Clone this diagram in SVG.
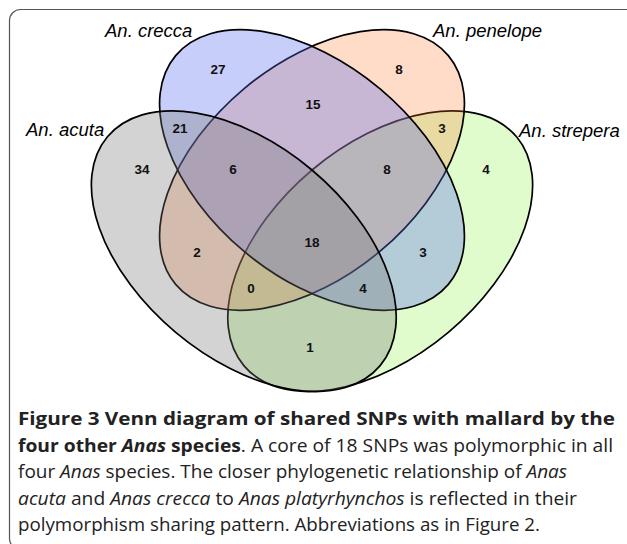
<svg xmlns="http://www.w3.org/2000/svg" width="627" height="544" viewBox="0 0 627 544">
<style>
.set{stroke:#000;stroke-width:1.7}
.lbl{font-family:"Liberation Sans",Arial,sans-serif;font-style:italic;font-size:18.5px;fill:#000}
.num{font-family:"Liberation Sans",Arial,sans-serif;font-weight:bold;font-size:13.5px;fill:#111;text-anchor:middle}
.cap{font-family:"Open Sans","Noto Sans",sans-serif;font-size:18.5px;fill:#222}
.b{font-weight:bold}
.i{font-style:italic}
</style>
<rect x="9.5" y="9.5" width="640" height="540" rx="11" fill="#fff" stroke="#555" stroke-width="1.2"/>
<g id="strepera">
<ellipse class="set" cx="0" cy="0" rx="178" ry="106" transform="translate(380.2,251.2) rotate(-40)" fill="#e0fccc"/>
<text class="lbl" x="519" y="137">An. strepera</text>
</g>
<g id="penelope">
<ellipse class="set" cx="0" cy="0" rx="178" ry="106" transform="translate(312,170) rotate(-40)" fill="rgb(255,120,43)" fill-opacity="0.26"/>
<text class="lbl" x="433" y="37">An. penelope</text>
</g>
<g id="crecca">
<ellipse class="set" cx="0" cy="0" rx="178" ry="106" transform="translate(312,170) rotate(40)" fill="rgb(88,107,240)" fill-opacity="0.33"/>
<text class="lbl" x="105" y="37">An. crecca</text>
</g>
<g id="acuta">
<ellipse class="set" cx="0" cy="0" rx="178" ry="106" transform="translate(243.8,251.2) rotate(40)" fill="rgb(118,118,118)" fill-opacity="0.32"/>
<text class="lbl" x="26" y="136">An. acuta</text>
</g>
<g id="counts">
<text class="num" x="218" y="74">27</text>
<text class="num" x="313" y="109">15</text>
<text class="num" x="399" y="74">8</text>
<text class="num" x="180" y="133">21</text>
<text class="num" x="442" y="133">3</text>
<text class="num" x="142" y="174">34</text>
<text class="num" x="233" y="174">6</text>
<text class="num" x="387" y="174">8</text>
<text class="num" x="486" y="174">4</text>
<text class="num" x="312" y="247">18</text>
<text class="num" x="197" y="257">2</text>
<text class="num" x="423" y="257">3</text>
<text class="num" x="251" y="293">0</text>
<text class="num" x="363" y="293">4</text>
<text class="num" x="310" y="352">1</text>
</g>
<g id="caption">
<text class="cap b" x="18" y="425" textLength="597" lengthAdjust="spacingAndGlyphs">Figure 3 Venn diagram of shared SNPs with mallard by the</text>
<text class="cap" x="18" y="451.5" textLength="595" lengthAdjust="spacingAndGlyphs"><tspan class="b">four other </tspan><tspan class="b i">Anas</tspan><tspan class="b"> species</tspan>. A core of 18 SNPs was polymorphic in all</text>
<text class="cap" x="18" y="478" textLength="549" lengthAdjust="spacingAndGlyphs">four <tspan class="i">Anas</tspan> species. The closer phylogenetic relationship of <tspan class="i">Anas</tspan></text>
<text class="cap" x="18" y="504.5" textLength="559" lengthAdjust="spacingAndGlyphs"><tspan class="i">acuta</tspan> and <tspan class="i">Anas crecca</tspan> to <tspan class="i">Anas platyrhynchos</tspan> is reflected in their</text>
<text class="cap" x="18" y="531" textLength="522" lengthAdjust="spacingAndGlyphs">polymorphism sharing pattern. Abbreviations as in Figure 2.</text>
</g>
</svg>
